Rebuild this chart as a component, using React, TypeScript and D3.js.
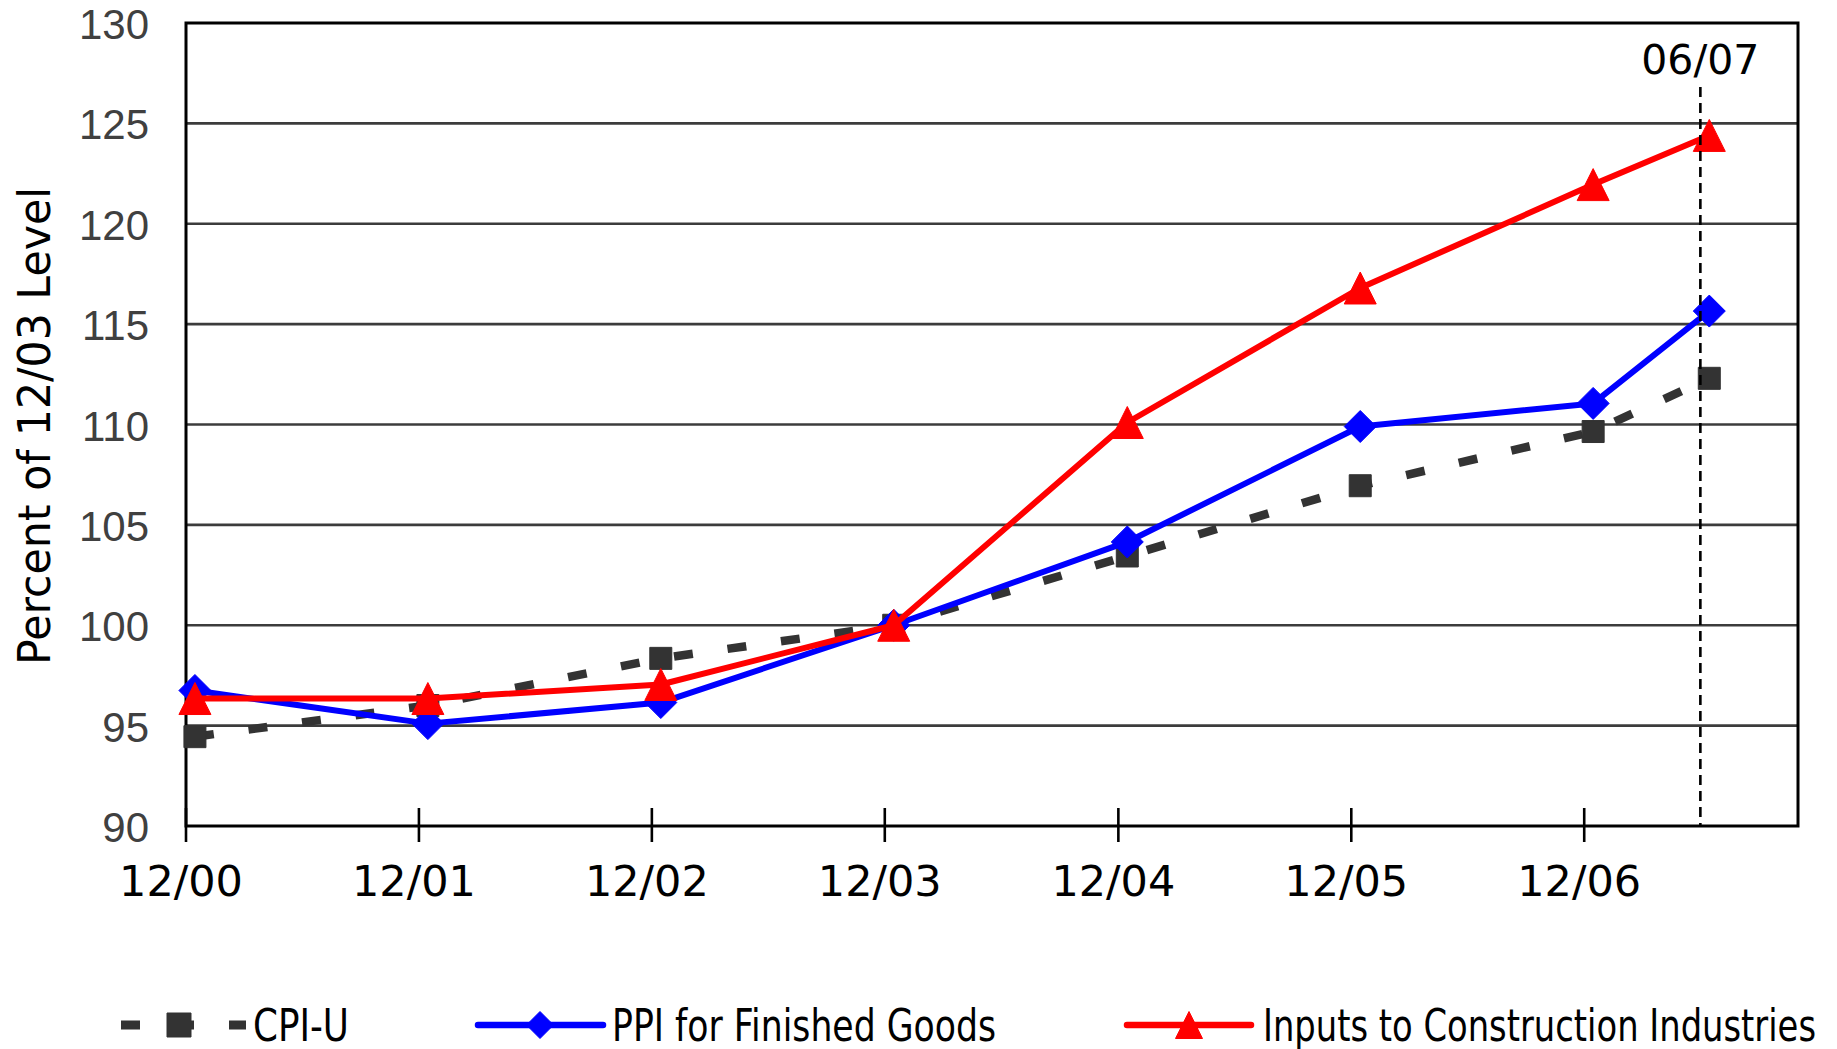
import React from 'react';
import * as d3 from 'd3';

// Observation dates (mid-month) and index levels, 12/03 = 100
const periods = ['2000-12-15', '2001-12-15', '2002-12-15', '2003-12-15', '2004-12-15', '2005-12-15', '2006-12-15', '2007-06-15'];
const cpiU = [94.45, 96.0, 98.35, 100, 103.45, 106.95, 109.65, 112.3];
const ppiFinishedGoods = [96.75, 95.1, 96.15, 100, 104.15, 109.9, 111.05, 115.65];
const constructionInputs = [96.35, 96.35, 97.05, 100, 110.1, 116.8, 121.95, 124.4];

const seriesNames = ['CPI-U', 'PPI for Finished Goods', 'Inputs to Construction Industries'];

const xTickDates = ['2000-12-01', '2001-12-01', '2002-12-01', '2003-12-01', '2004-12-01', '2005-12-01', '2006-12-01'];
const xTickLabels = ['12/00', '12/01', '12/02', '12/03', '12/04', '12/05', '12/06'];
const yTicks = [90, 95, 100, 105, 110, 115, 120, 125, 130];
const latestDate = '2007-06-01';
const latestLabel = '06/07';

const parse = d3.timeParse('%Y-%m-%d');

const W = 1837;
const H = 1049;
const left = 186;
const right = 1798;
const top = 23;
const bottom = 826;

const x = d3.scaleTime().domain([parse('2000-12-01')!, parse('2007-11-01')!]).range([left, right]);
const y = d3.scaleLinear().domain([90, 130]).range([bottom, top]);

type Marker = 'square' | 'diamond' | 'triangle';

function markerPath(kind: Marker, s: number): string {
  const h = s / 2;
  if (kind === 'square') return `M${-h},${-h}H${h}V${h}H${-h}Z`;
  if (kind === 'diamond') return `M0,${-h}L${h},0L0,${h}L${-h},0Z`;
  return `M0,${-h}L${h},${h}L${-h},${h}Z`;
}

const series = [
  { name: seriesNames[0], values: cpiU, color: '#333333', width: 8.5, dash: '19 35', marker: 'square' as Marker, size: 22 },
  { name: seriesNames[1], values: ppiFinishedGoods, color: '#0000ff', width: 6, dash: undefined, marker: 'diamond' as Marker, size: 32 },
  { name: seriesNames[2], values: constructionInputs, color: '#ff0000', width: 6, dash: undefined, marker: 'triangle' as Marker, size: 32 },
];

const legendItems = [
  { lineFrom: 121, lineTo: 246, markerX: 179, textX: 253, textLen: 96, msize: 24 },
  { lineFrom: 478, lineTo: 603, markerX: 540, textX: 612, textLen: 384, msize: 27 },
  { lineFrom: 1127, lineTo: 1251, markerX: 1189, textX: 1263, textLen: 553, msize: 27 },
];

export default function App() {
  const dates = periods.map((p) => parse(p)!);
  const line = d3
    .line<number>()
    .x((_, i) => x(dates[i]))
    .y((v) => y(v));

  const legendY = 1025;

  return (
    <svg
      width={W}
      height={H}
      viewBox={`0 0 ${W} ${H}`}
      style={{ position: 'absolute', left: 0, top: 0, background: '#fff' }}
    >
      <rect x={0} y={0} width={W} height={H} fill="#fff" />

      {/* horizontal gridlines */}
      {yTicks
        .filter((t) => t > 90 && t < 130)
        .map((t) => (
          <line key={t} x1={left} x2={right} y1={y(t)} y2={y(t)} stroke="#3c3c3c" strokeWidth={2.6} />
        ))}

      {/* plot frame */}
      <rect x={left} y={top} width={right - left} height={bottom - top} fill="none" stroke="#000" strokeWidth={3} />

      {/* x ticks */}
      {xTickDates.map((d) => {
        const xp = x(parse(d)!);
        return <line key={d} x1={xp} x2={xp} y1={bottom - 18} y2={bottom + 16} stroke="#000" strokeWidth={2.6} />;
      })}

      {/* y tick labels */}
      {yTicks.map((t) => (
        <text
          key={t}
          x={149}
          y={y(t) + 16}
          textAnchor="end"
          fontFamily="'Liberation Sans', Arial, sans-serif"
          fontSize={42}
          fill="#404040"
        >
          {t}
        </text>
      ))}

      {/* x tick labels */}
      {xTickDates.map((d, i) => (
        <text
          key={d}
          x={x(parse(d)!) - 5}
          y={896}
          textAnchor="middle"
          fontFamily="'DejaVu Sans', Verdana, sans-serif"
          fontSize={43}
          fill="#000"
        >
          {xTickLabels[i]}
        </text>
      ))}

      {/* y axis title */}
      <text
        transform={`translate(50, 426) rotate(-90)`}
        textAnchor="middle"
        fontFamily="'DejaVu Sans', Verdana, sans-serif"
        fontSize={44}
        textLength={478}
        lengthAdjust="spacingAndGlyphs"
        fill="#000"
      >
        Percent of 12/03 Level
      </text>

      {/* series */}
      {series.map((s) => (
        <g key={s.name}>
          <path
            d={line(s.values) ?? ''}
            fill="none"
            stroke={s.color}
            strokeWidth={s.width}
            strokeDasharray={s.dash}
            strokeLinejoin="round"
          />
          {s.values.map((v, i) => (
            <path
              key={i}
              d={markerPath(s.marker, s.size)}
              transform={`translate(${x(dates[i])},${y(v)})`}
              fill={s.color}
              stroke={s.color}
              strokeWidth={1}
              strokeLinejoin="round"
            />
          ))}
        </g>
      ))}

      {/* latest observation marker line */}
      <line
        x1={x(parse(latestDate)!)}
        x2={x(parse(latestDate)!)}
        y1={87}
        y2={bottom}
        stroke="#000"
        strokeWidth={2.6}
        strokeDasharray="10 6"
      />
      <text
        x={x(parse(latestDate)!)}
        y={74}
        textAnchor="middle"
        fontFamily="'DejaVu Sans', Verdana, sans-serif"
        fontSize={41}
        fill="#000"
      >
        {latestLabel}
      </text>

      {/* legend */}
      {series.map((s, i) => {
        const it = legendItems[i];
        return (
          <g key={s.name}>
            <line
              x1={it.lineFrom}
              x2={it.lineTo}
              y1={legendY}
              y2={legendY}
              stroke={s.color}
              strokeWidth={s.dash ? 9 : 6.5}
              strokeDasharray={s.dash}
              strokeLinecap={s.dash ? 'butt' : 'round'}
            />
            <path
              d={markerPath(s.marker, it.msize)}
              transform={`translate(${it.markerX},${legendY})`}
              fill={s.color}
              stroke={s.color}
              strokeWidth={1}
              strokeLinejoin="round"
            />
            <text
              x={it.textX}
              y={legendY + 16}
              fontFamily="'DejaVu Sans', Verdana, sans-serif"
              fontSize={44}
              textLength={it.textLen}
              lengthAdjust="spacingAndGlyphs"
              fill="#000"
            >
              {s.name}
            </text>
          </g>
        );
      })}
    </svg>
  );
}
